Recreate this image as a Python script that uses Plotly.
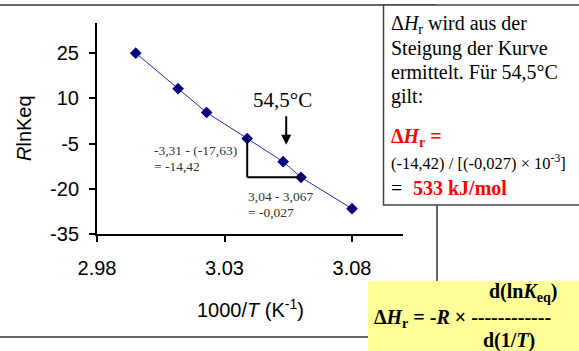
import plotly.graph_objects as go

# Van't Hoff plot: R ln Keq against 1000/T
inv_t = [2.9952, 3.0118, 3.0230, 3.0389, 3.0530, 3.0600, 3.0800]
r_ln_keq = [25.0, 13.2, 5.3, -3.31, -11.0, -16.2, -26.6]

x_ticks = [2.98, 3.03, 3.08]
x_tick_text = ["2.98", "3.03", "3.08"]
y_ticks = [-35, -20, -5, 10, 25]
y_tick_text = ["-35", "-20", "-5", "10", "25"]

W, H = 579, 351
L, R, T, B = 97, 403, 23, 234

SANS = "Liberation Sans, Arial, sans-serif"
SERIF = "Liberation Serif, Times New Roman, serif"


def px(x):
    return (x - L) / (R - L)


def py(y):
    return (B - y) / (B - T)


fig = go.Figure()
fig.add_trace(go.Scatter(
    x=inv_t, y=r_ln_keq, mode="lines+markers",
    line=dict(color="#2a2ab0", width=1),
    marker=dict(symbol="diamond", size=9, color="#000080"),
    showlegend=False,
))

shapes = [
    # outer frame
    dict(type="line", xref="paper", yref="paper", x0=px(0), x1=px(437), y0=py(5), y1=py(5),
         line=dict(color="#333", width=1.5)),
    dict(type="line", xref="paper", yref="paper", x0=px(437), x1=px(437), y0=py(5), y1=py(281),
         line=dict(color="#333", width=1.5)),
    dict(type="line", xref="paper", yref="paper", x0=px(0), x1=px(368), y0=py(337), y1=py(337),
         line=dict(color="#333", width=1.5)),
    # slope triangle
    dict(type="line", xref="x", yref="y", x0=inv_t[3], x1=inv_t[3], y0=r_ln_keq[3], y1=r_ln_keq[5],
         line=dict(color="black", width=2)),
    dict(type="line", xref="x", yref="y", x0=inv_t[3], x1=inv_t[5], y0=r_ln_keq[5], y1=r_ln_keq[5],
         line=dict(color="black", width=2)),
    # explanation box
    dict(type="rect", xref="paper", yref="paper", x0=px(383.5), x1=px(590), y0=py(5), y1=py(205),
         fillcolor="white", line=dict(color="#444", width=1.5), layer="above"),
    # formula box
    dict(type="rect", xref="paper", yref="paper", x0=px(368), x1=px(590), y0=py(281), y1=py(360),
         fillcolor="#ffff99", line=dict(width=0), layer="above"),
]

ann = []


def text(x, y, s, size, family=SERIF, color="black", anchor="left", angle=0):
    ann.append(dict(xref="paper", yref="paper", x=px(x), y=py(y), text=s, showarrow=False,
                    xanchor=anchor, yanchor="middle", textangle=angle,
                    font=dict(size=size, family=family, color=color)))


# axis titles
text(24, 128, "<i>R</i>lnKeq", 20, SANS, anchor="center", angle=-90)
text(250, 308, "1000/<i>T</i> (K<sup>-1</sup>)", 20, SANS, anchor="center")

# chart notes
text(282, 100, "54,5°C", 21, anchor="center")
text(152, 150, "-3,31 - (-17,63)", 13.5, color="#333")
text(152, 166, "= -14,42", 13.5, color="#333")
text(246, 196, "3,04 - 3,067", 13.5, color="#333")
text(246, 212, "= -0,027", 13.5, color="#333")
ann.append(dict(xref="x", yref="y", x=inv_t[4] + 0.0012, y=r_ln_keq[4], ax=0, ay=-47,
                text="", showarrow=True, arrowhead=2, arrowsize=1, arrowwidth=2,
                arrowcolor="black", standoff=17))

# explanation text
text(389, 24, "Δ<i>H</i><sub>r</sub> wird aus der", 20)
text(389, 48, "Steigung der Kurve", 20)
text(389, 72, "ermittelt. Für 54,5°C", 20)
text(389, 96, "gilt:", 20)
text(389, 137, "<b>Δ<i>H</i><sub>r</sub> =</b>", 20, color="#ff0000")
text(389, 162, "(-14,42) / [(-0,027) × 10<sup>-3</sup>]", 16.5)
text(389, 188, "=", 20)
text(411, 188, "<b>533 kJ/mol</b>", 20, color="#ff0000")

# formula
text(487, 292, "<b>d(ln<i>K</i><sub>eq</sub>)</b>", 20)
text(372, 318, "<b>Δ<i>H</i><sub>r</sub> = -<i>R</i> × ------------</b>", 20)
text(481, 340, "<b>d(1/<i>T</i>)</b>", 20)

fig.update_layout(
    width=W, height=H,
    margin=dict(l=L, r=W - R, t=T, b=H - B, pad=0),
    paper_bgcolor="white", plot_bgcolor="white",
    shapes=shapes, annotations=ann,
    xaxis=dict(range=[2.98, 3.10], tickvals=x_ticks, ticktext=x_tick_text,
               showline=True, linecolor="black", linewidth=2, ticks="outside",
               ticklen=6, tickwidth=1.5, tickcolor="black", showgrid=False, zeroline=False,
               ticklabelstandoff=9,
               tickfont=dict(size=20, family=SANS, color="black")),
    yaxis=dict(range=[-35, 35], tickvals=y_ticks, ticktext=y_tick_text,
               showline=True, linecolor="black", linewidth=2, ticks="outside",
               ticklen=6, tickwidth=1.5, tickcolor="black", showgrid=False, zeroline=False,
               ticklabelstandoff=6,
               tickfont=dict(size=20, family=SANS, color="black")),
)

fig.write_html("out.html")
